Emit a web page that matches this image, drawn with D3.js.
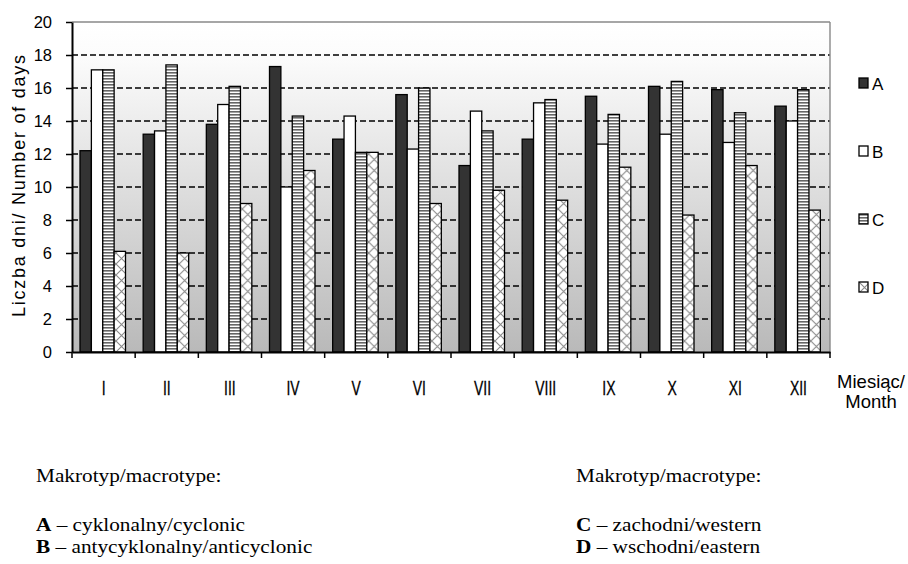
<!DOCTYPE html>
<html><head><meta charset="utf-8">
<script src="https://cdn.jsdelivr.net/npm/d3@7/dist/d3.min.js"></script>
<style>
html,body{margin:0;padding:0;background:#fff;}
svg{display:block;}
</style></head>
<body>
<svg id="chart" width="908" height="564"></svg>
<script>
const months = ["I","II","III","IV","V","VI","VII","VIII","IX","X","XI","XII"];
const seriesNames = ["A","B","C","D"];
const valuesA = [12.2,13.2,13.8,17.3,12.9,15.6,11.3,12.9,15.5,16.1,15.9,14.9];
const valuesB = [17.1,13.4,15.0,10.0,14.3,12.3,14.6,15.1,12.6,13.2,12.7,14.0];
const valuesC = [17.1,17.4,16.1,14.3,12.1,16.0,13.4,15.3,14.4,16.4,14.5,15.9];
const valuesD = [6.1,6.0,9.0,11.0,12.1,9.0,9.8,9.2,11.2,8.3,11.3,8.6];
const yTicks = [0,2,4,6,8,10,12,14,16,18,20];
const yLabel = "Liczba dni/ Number of days";
const xLabel = ["Miesiąc/","Month"];
const noteLeft = ["Makrotyp/macrotype:", ["A"," – cyklonalny/cyclonic"], ["B"," – antycyklonalny/anticyclonic"]];
const noteRight = ["Makrotyp/macrotype:", ["C"," – zachodni/western"], ["D"," – wschodni/eastern"]];

const allValues = [valuesA, valuesB, valuesC, valuesD];
const data = months.map((m,i)=>({month:m, vals: seriesNames.map((s,j)=>({key:s, value: allValues[j][i]}))}));

const svg = d3.select("#chart");
const L = 72, R = 830, T = 22, B = 352;

const defs = svg.append("defs");
const grad = defs.append("linearGradient").attr("id","bg").attr("x1",0).attr("y1",0).attr("x2",0).attr("y2",1);
grad.append("stop").attr("offset","0%").attr("stop-color","#ffffff");
grad.append("stop").attr("offset","10%").attr("stop-color","#fcfcfc");
grad.append("stop").attr("offset","100%").attr("stop-color","#b9b9b9");

const pC = defs.append("pattern").attr("id","patC").attr("patternUnits","userSpaceOnUse").attr("width",4).attr("height",3);
pC.append("rect").attr("width",4).attr("height",3).attr("fill","#ffffff");
pC.append("rect").attr("width",4).attr("height",1.6).attr("fill","#666666");

const pD = defs.append("pattern").attr("id","patD").attr("patternUnits","userSpaceOnUse").attr("width",11).attr("height",11);
pD.append("rect").attr("width",11).attr("height",11).attr("fill","#ffffff");
pD.append("path").attr("d","M0,0L11,11M11,0L0,11").attr("stroke","#8a8a8a").attr("stroke-width",1.1);

const fills = {A:"#333333", B:"#ffffff", C:"url(#patC)", D:"url(#patD)"};

const x0 = d3.scaleBand().domain(months).range([L,R]).padding(0);
const x1 = d3.scaleBand().domain(seriesNames).range([8, 53.5]).padding(0);
const y = d3.scaleLinear().domain([0,20]).range([B,T]);

// background
svg.append("rect").attr("x",L).attr("y",T).attr("width",R-L).attr("height",B-T).attr("fill","url(#bg)");

// gridlines
svg.append("g").selectAll("line").data(yTicks.filter(t=>t>0 && t<20)).join("line")
  .attr("x1",L).attr("x2",R).attr("y1",d=>y(d)).attr("y2",d=>y(d))
  .attr("stroke","#000").attr("stroke-width",1.4).attr("stroke-dasharray","6,3");
// top and right border
svg.append("line").attr("x1",L).attr("x2",R).attr("y1",y(20)).attr("y2",y(20)).attr("stroke","#888").attr("stroke-width",1.4);
svg.append("line").attr("x1",R).attr("x2",R).attr("y1",T).attr("y2",B).attr("stroke","#888").attr("stroke-width",1.4);

// bars
const g = svg.append("g").selectAll("g").data(data).join("g").attr("transform",d=>`translate(${x0(d.month)},0)`);
g.selectAll("rect").data(d=>d.vals).join("rect")
  .attr("x",d=>x1(d.key)).attr("width",x1.bandwidth())
  .attr("y",d=>y(d.value)).attr("height",d=>y(0)-y(d.value))
  .attr("fill",d=>fills[d.key]).attr("stroke","#000").attr("stroke-width",1.3);

// y axis
const yAxis = d3.axisLeft(y).tickValues(yTicks).tickSize(6).tickSizeOuter(0).tickPadding(14);
const ya = svg.append("g").attr("transform",`translate(${L},0)`).call(yAxis);
ya.select(".domain").attr("stroke","#000").attr("stroke-width",2);
ya.selectAll(".tick line").attr("stroke","#000").attr("stroke-width",1.5);
ya.selectAll(".tick text").attr("font-family","Liberation Sans, Arial, sans-serif").attr("font-size",16.5).attr("fill","#000");

// x axis
const xAxis = d3.axisBottom(x0).tickSize(0).tickPadding(0);
const xa = svg.append("g").attr("transform",`translate(0,${B})`).call(xAxis);
xa.select(".domain").attr("stroke","#000").attr("stroke-width",2.2);
xa.selectAll(".tick text").attr("font-family","Liberation Sans, Arial, sans-serif").attr("font-size",20.5).attr("fill","#000")
  .attr("dy",null).attr("y",43).attr("transform","scale(0.68,1)").attr("stroke","#000").attr("stroke-width",0.3);
// boundary ticks
svg.append("g").selectAll("line").data(months.concat(["end"])).join("line")
  .attr("x1",(d,i)=>L + i*x0.bandwidth()).attr("x2",(d,i)=>L + i*x0.bandwidth())
  .attr("y1",B).attr("y2",B+6).attr("stroke","#000").attr("stroke-width",1.5);

// y label
svg.append("text").attr("transform","translate(25,186) rotate(-90)").attr("text-anchor","middle")
  .attr("font-family","Liberation Sans, Arial, sans-serif").attr("font-size",18)
  .attr("textLength",262).attr("lengthAdjust","spacing").text(yLabel);

// x label
[0,1].forEach(i=>{
  svg.append("text").attr("transform",`translate(871,${388+i*20})`).attr("text-anchor","middle")
    .attr("font-family","Liberation Sans, Arial, sans-serif").attr("font-size",18.5).text(xLabel[i]);
});

// legend
const lg = svg.append("g").selectAll("g").data(seriesNames).join("g")
  .attr("transform",(d,i)=>`translate(859,${78 + i*68})`);
lg.append("rect").attr("width",9).attr("height",10).attr("fill",d=>fills[d]).attr("stroke","#000").attr("stroke-width",1.3);
lg.append("text").attr("x",13).attr("y",12)
  .attr("font-family","Liberation Sans, Arial, sans-serif").attr("font-size",17).text(d=>d);

// notes
function note(lines, x){
  svg.append("text").attr("transform",`translate(${x},482) scale(1.15,1)`).attr("font-family","Liberation Serif, Times New Roman, serif").attr("font-size",18.5).text(lines[0]);
  [lines[1],lines[2]].forEach((ln,i)=>{
    const t = svg.append("text").attr("transform",`translate(${x},${531 + i*22}) scale(1.15,1)`).attr("font-family","Liberation Serif, Times New Roman, serif").attr("font-size",18.5);
    t.append("tspan").attr("font-weight","bold").text(ln[0]);
    t.append("tspan").text(ln[1]);
  });
}
note(noteLeft, 36);
note(noteRight, 576);
</script>
</body></html>
